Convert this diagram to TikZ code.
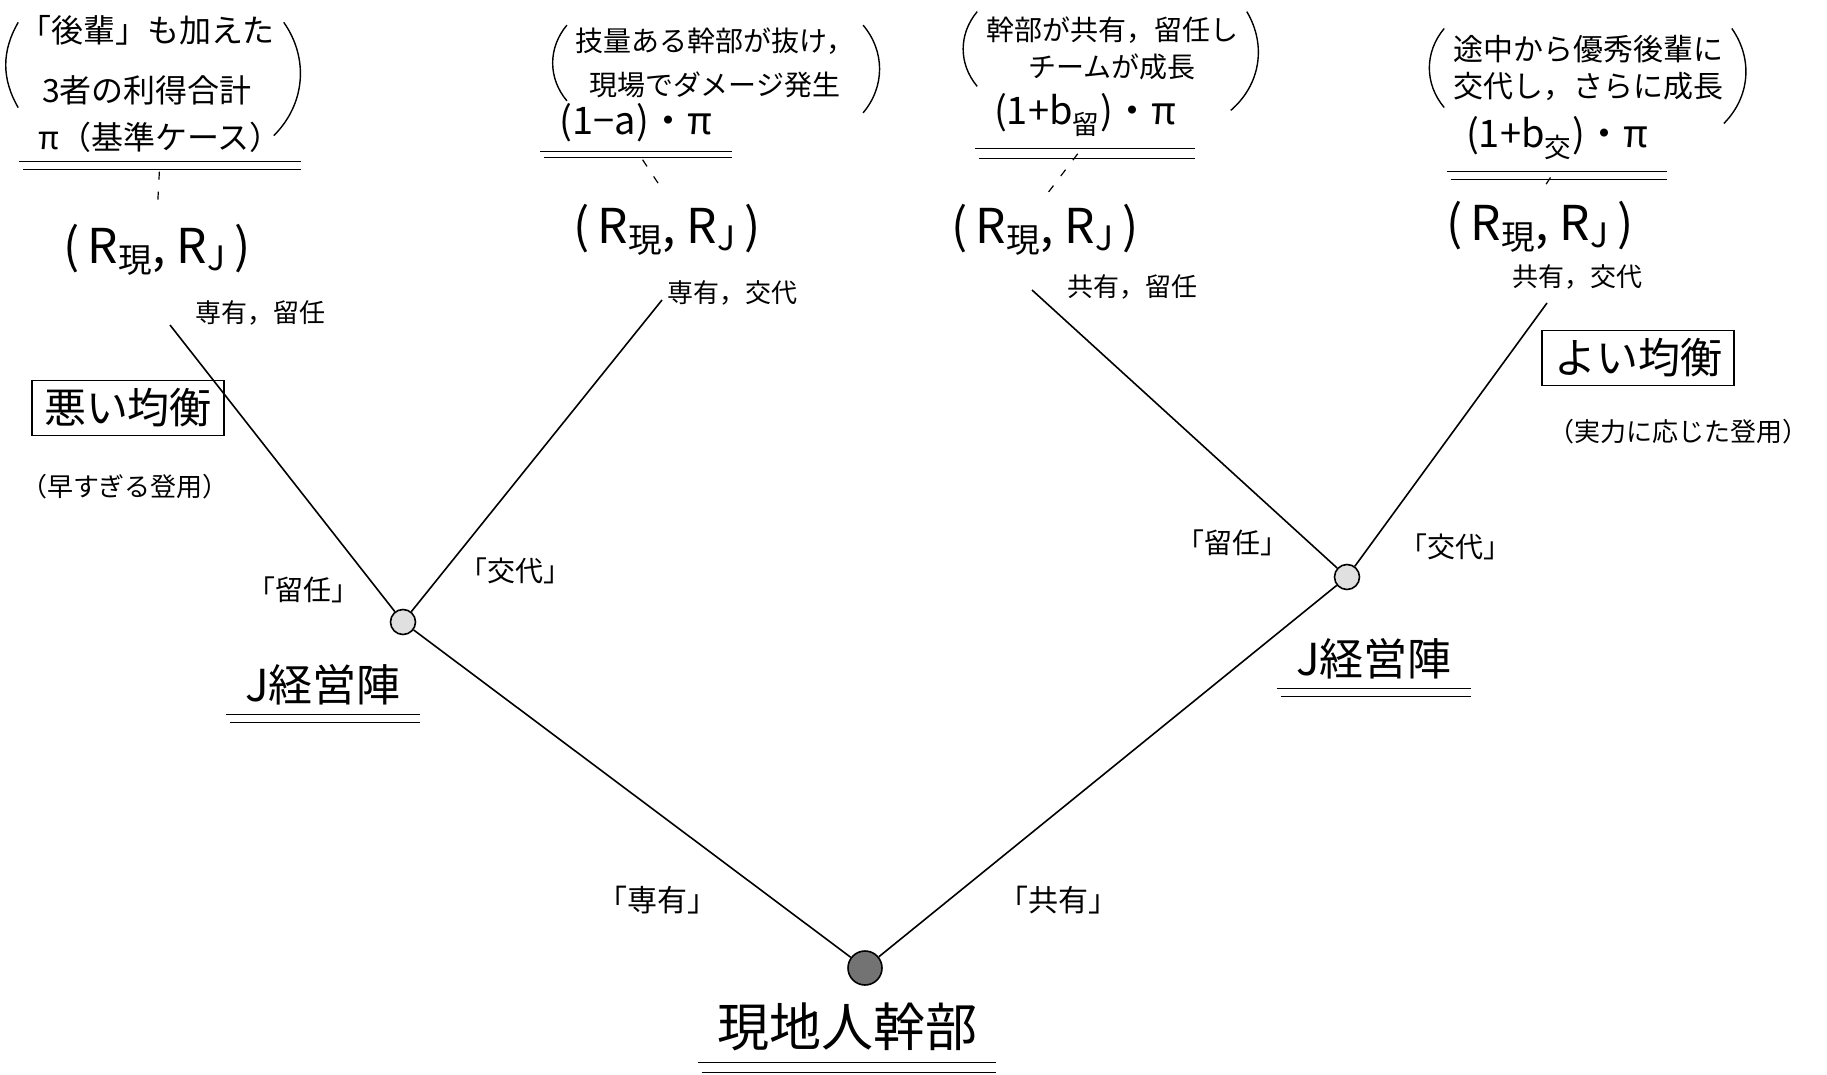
\documentclass[tikz,border=0pt]{standalone}
\usepackage{fontspec}
\setmainfont{Noto Sans CJK JP}
\usetikzlibrary{positioning}

\begin{document}
\begin{tikzpicture}[x=0.5pt,y=-0.5pt,line width=0.8pt,
  dec/.style={draw,circle,minimum size=12.5pt,inner sep=0pt},
  note/.style={font=\fontsize{14}{19}\selectfont,align=center,inner xsep=4pt,inner ysep=1pt},
  val/.style={font=\fontsize{19}{22}\selectfont},
  pay/.style={font=\fontsize{24}{28}\selectfont},
  strat/.style={font=\fontsize{13}{16}\selectfont},
  act/.style={font=\fontsize{14}{17}\selectfont},
  eqbox/.style={draw,font=\fontsize{21}{24}\selectfont,inner xsep=6pt,inner ysep=4pt},
  eqnote/.style={font=\fontsize{13}{16}\selectfont},
  player/.style={font=\fontsize{22}{26}\selectfont},
  dashpat/.style={dash pattern=on 4pt off 6pt,line width=0.6pt},
  paren/.style={line width=0.7pt}]
\useasboundingbox (0,0) rectangle (1827,1075);

% decision nodes
\node[dec,fill=black!55,minimum size=17pt] (root) at (865,968) {};
\node[dec,fill=black!12] (jl) at (403,622) {};
\node[dec,fill=black!12] (jr) at (1347,577) {};
\coordinate (l1) at (170,325);
\coordinate (l2) at (662,300);
\coordinate (l3) at (1032,290);
\coordinate (l4) at (1547,303);
\draw (root) -- (jl);
\draw (root) -- (jr);
\draw (jl) -- (l1);
\draw (jl) -- (l2);
\draw (jr) -- (l3);
\draw (jr) -- (l4);

% players
\node[player] (pj1) at (323,685) {J経営陣};
\node[player] (pj2) at (1374,659) {J経営陣};
\node[player,font=\fontsize{26}{30}\selectfont] (pg) at (847,1027) {現地人幹部};

% actions
\node[act,font=\fontsize{15}{18}\selectfont] (a1) at (657,900) {「専有」};
\node[act,font=\fontsize{15}{18}\selectfont] (a2) at (1058,900) {「共有」};
\node[act] (a3) at (303,590) {「留任」};
\node[act] (a4) at (515,571) {「交代」};
\node[act] (a5) at (1232,543) {「留任」};
\node[act] (a6) at (1455,547) {「交代」};

% payoffs and strategy profiles
\foreach \i/\x/\y in {1/157/250,2/667/230,3/1045/230,4/1540/227}
  {\node[pay] (r\i) at (\x,\y) {(\,R\textsubscript{現}, R\textsubscript{J}\,)};}
\node[strat] (s1) at (260,313) {専有，留任};
\node[strat] (s2) at (732,293) {専有，交代};
\node[strat] (s3) at (1132,287) {共有，留任};
\node[strat] (s4) at (1577,277) {共有，交代};

% joint values
\node[val,font=\fontsize{16}{20}\selectfont] (v1) at (160,137) {π（基準ケース）};
\node[val] (v2) at (636,123) {(1−a)・π};
\node[val] (v3) at (1085,115) {(1+b\textsubscript{留})・π};
\node[val] (v4) at (1557,138) {(1+b\textsubscript{交})・π};
\foreach \i in {1,...,4}
  {\draw[dashpat,shorten <=6pt,shorten >=3pt] (v\i.south) -- (r\i.north);}

% notes
\node[note,font=\fontsize{16}{30}\selectfont] (n1) at (147,60) {「後輩」も加えた\\3者の利得合計};
\node[note,font=\fontsize{14}{22}\selectfont] (n2) at (715,63) {技量ある幹部が抜け，\\現場でダメージ発生};
\node[note,font=\fontsize{14}{18.5}\selectfont] (n3) at (1112,48) {幹部が共有，留任し\\チームが成長};
\node[note,font=\fontsize{15}{18.5}\selectfont] (n4) at (1588,68) {途中から優秀後輩に\\交代し，さらに成長};
\draw[paren] ([xshift=4pt,yshift=-5pt]n1.north west) to[bend right=30] ([xshift=4pt]n1.south west);
\draw[paren] ([yshift=-5pt]n1.north east) to[bend left=40] ([xshift=-5pt,yshift=-14pt]n1.south east);
\draw[paren] (n2.north west) to[bend right=40] (n2.south west);
\draw[paren] (n2.north east) to[bend left=40] ([yshift=-6pt]n2.south east);
\draw[paren] ([yshift=1pt]n3.north west) to[bend right=40] ([yshift=-2pt]n3.south west);
\draw[paren] ([yshift=1pt]n3.north east) to[bend left=40] ([xshift=-8pt,yshift=-14pt]n3.south east);
\draw[paren] ([yshift=2pt]n4.north west) to[bend right=40] ([yshift=-2pt]n4.south west);
\draw[paren] ([yshift=2pt]n4.north east) to[bend left=40] ([xshift=-4pt,yshift=-10pt]n4.south east);

% double underlines
\foreach \n/\a/\b in {v1/-1pt/-5pt,v2/-1pt/-4pt,v3/-2pt/-7pt,v4/-2pt/-6pt,pj1/-1pt/-5pt,pj2/-1pt/-5pt,pg/-2pt/-7pt}
  {\draw[line width=0.7pt] ([xshift=-6pt,yshift=\a]\n.south west) -- ([xshift=6pt,yshift=\a]\n.south east);
   \draw[line width=0.7pt] ([xshift=-4pt,yshift=\b]\n.south west) -- ([xshift=6pt,yshift=\b]\n.south east);}

% equilibria
\node[eqbox] (bad) at (128,408) {悪い均衡};
\node[eqnote] (badn) at (125,487) {（早すぎる登用）};
\node[eqbox] (good) at (1638,358) {よい均衡};
\node[eqnote] (goodn) at (1678,432) {（実力に応じた登用）};
\end{tikzpicture}
\end{document}
